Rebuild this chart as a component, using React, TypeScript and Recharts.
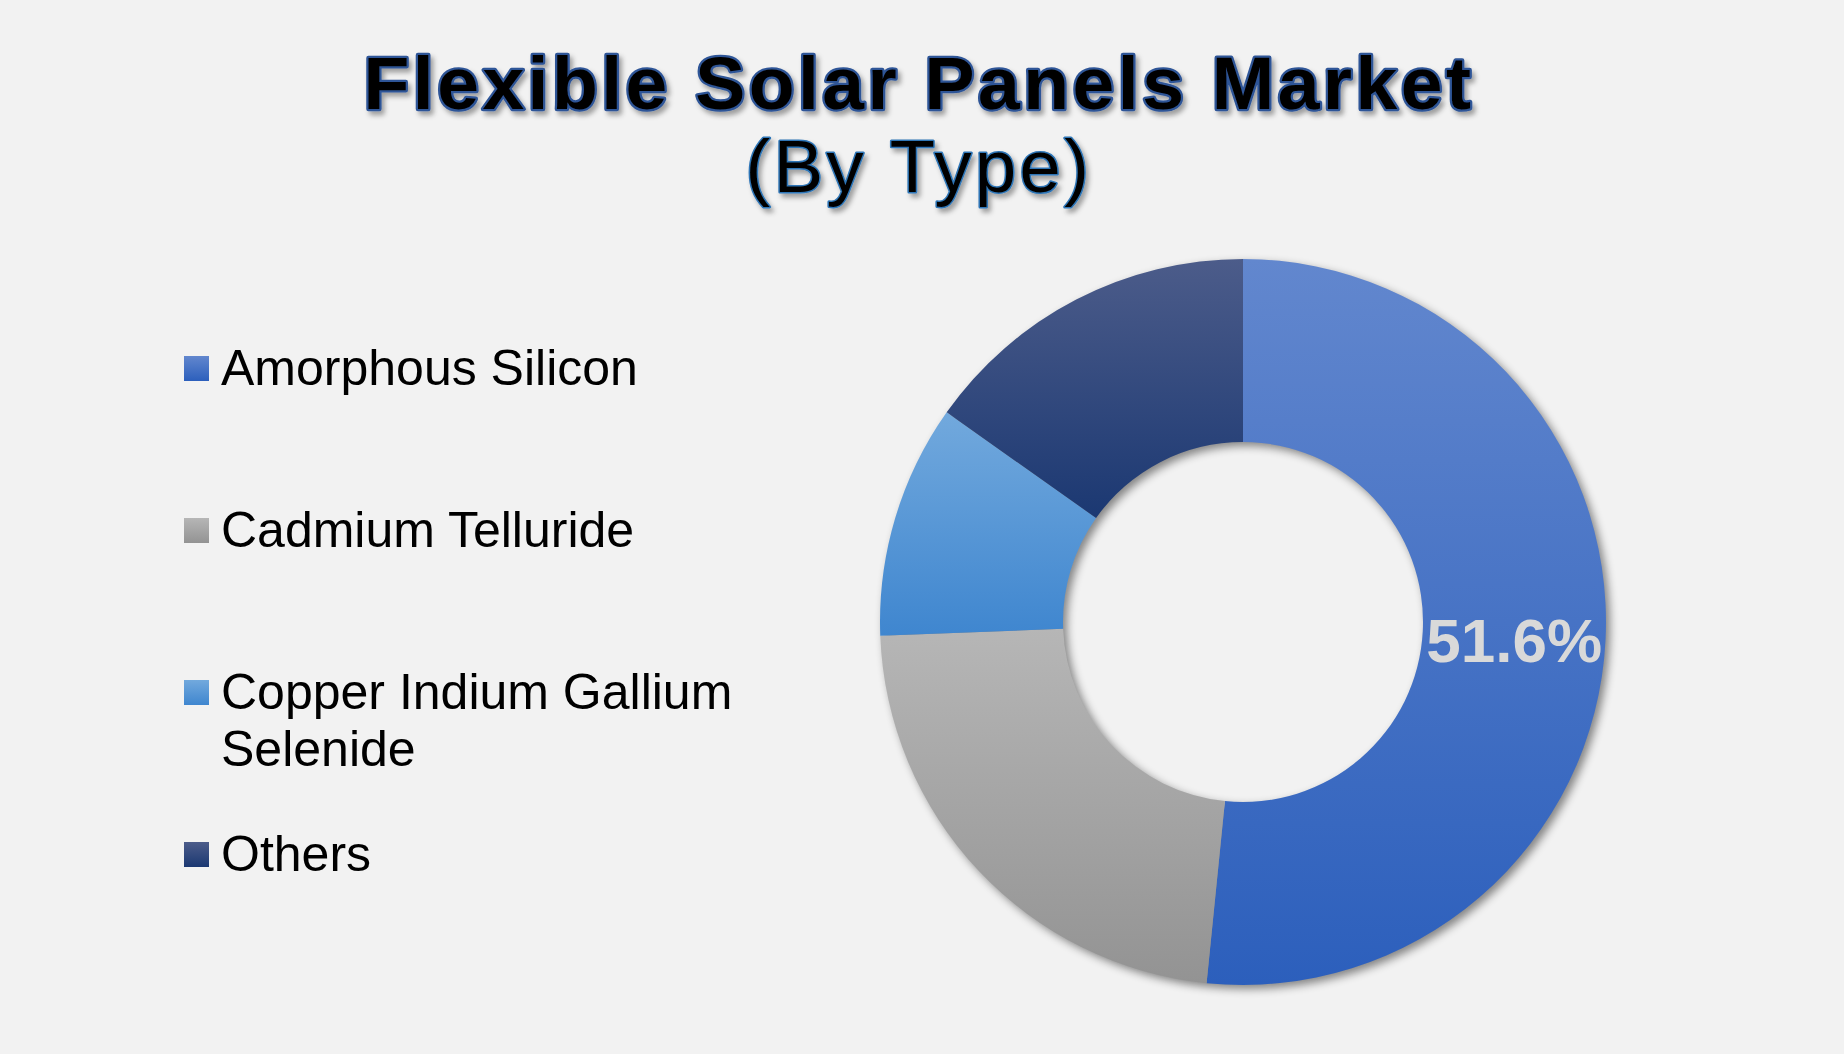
import { Cell, Legend, Pie, PieChart } from "recharts";

// Market share by panel type (%), read from the donut
const CATEGORIES = [
  "Amorphous Silicon",
  "Cadmium Telluride",
  "Copper Indium Gallium Selenide",
  "Others",
];
const SHARES = [51.6, 22.8, 10.4, 15.2];
// only the leading segment carries a value label
const SHOW_LABEL = [true, false, false, false];

const GRADIENT_TOP = ["#6287ce", "#b6b6b6", "#72a9dd", "#4c5c8a"];
const GRADIENT_BOTTOM = ["#2c5fbc", "#939393", "#3f86cf", "#1b3872"];

const FONT = '"Liberation Sans", Arial, Helvetica, sans-serif';
const WIDTH = 1844;
const HEIGHT = 1054;
const RADIAN = Math.PI / 180;

const LEGEND_FIRST_TOP = 340;
const LEGEND_PITCH = 162;

const data = CATEGORIES.map((name, i) => ({ name, value: SHARES[i] }));

type LabelProps = {
  cx: number;
  cy: number;
  midAngle: number;
  innerRadius: number;
  outerRadius: number;
  index: number;
  value: number;
};

function renderLabel({ cx, cy, midAngle, innerRadius, outerRadius, index, value }: LabelProps) {
  if (!SHOW_LABEL[index]) return null;
  const r = (innerRadius + outerRadius) / 2;
  const x = cx + r * Math.cos(-midAngle * RADIAN);
  const y = cy + r * Math.sin(-midAngle * RADIAN);
  return (
    <text
      x={x}
      y={y}
      dy={5}
      textAnchor="middle"
      dominantBaseline="central"
      fill="#d9d9d9"
      fontFamily={FONT}
      fontWeight="bold"
      fontSize={62}
    >
      {`${value.toFixed(1)}%`}
    </text>
  );
}

type LegendEntry = { value?: string | number };

function LegendContent({ payload }: { payload?: ReadonlyArray<LegendEntry> }) {
  const items =
    payload && payload.length > 0 ? payload.map((p) => String(p.value)) : CATEGORIES;
  return (
    <div style={{ position: "relative", width: 800, height: HEIGHT }}>
      {items.map((label, i) => (
        <div
          key={label}
          style={{
            position: "absolute",
            left: 184,
            top: LEGEND_FIRST_TOP + LEGEND_PITCH * i,
            display: "flex",
            alignItems: "flex-start",
            fontFamily: FONT,
            fontSize: 50,
            lineHeight: "57px",
            color: "#000",
            textAlign: "left",
          }}
        >
          <span
            style={{
              display: "inline-block",
              width: 25,
              height: 25,
              marginTop: 16,
              marginRight: 12,
              flex: "none",
              background: `linear-gradient(${GRADIENT_TOP[i]}, ${GRADIENT_BOTTOM[i]})`,
            }}
          />
          <span style={{ maxWidth: 540 }}>{label}</span>
        </div>
      ))}
    </div>
  );
}

export default function App() {
  return (
    <div
      style={{
        position: "absolute",
        left: 0,
        top: 0,
        width: WIDTH,
        height: HEIGHT,
        background: "#f2f2f2",
        overflow: "hidden",
      }}
    >
      <style>{`.recharts-pie { filter: drop-shadow(4px 4px 4px rgba(0,0,0,0.45)); }`}</style>
      <svg
        width={WIDTH}
        height={230}
        style={{ position: "absolute", left: 0, top: 0 }}
      >
        <defs>
          <filter id="titleShadow" x="-5%" y="-20%" width="110%" height="150%">
            <feDropShadow dx="3" dy="4" stdDeviation="2.5" floodColor="#000" floodOpacity="0.35" />
          </filter>
        </defs>
        <text
          x={919}
          y={109}
          textAnchor="middle"
          fontFamily={FONT}
          fontWeight="bold"
          fontSize={75}
          letterSpacing={3.5}
          fill="#000"
          stroke="#2f5597"
          strokeWidth={4.5}
          paintOrder="stroke"
          strokeLinejoin="round"
          filter="url(#titleShadow)"
        >
          Flexible Solar Panels Market
        </text>
        <text
          x={919}
          y={192}
          textAnchor="middle"
          fontFamily={FONT}
          fontSize={74}
          letterSpacing={3.5}
          fill="#000"
          stroke="#2e75b6"
          strokeWidth={3}
          paintOrder="stroke"
          strokeLinejoin="round"
          filter="url(#titleShadow)"
        >
          (By Type)
        </text>
      </svg>
      <PieChart width={WIDTH} height={HEIGHT} margin={{ top: 0, right: 0, bottom: 0, left: 0 }}>
        <defs>
          {CATEGORIES.map((c, i) => (
            <linearGradient key={c} id={`seg${i}`} x1="0" y1="0" x2="0" y2="1">
              <stop offset="0%" stopColor={GRADIENT_TOP[i]} />
              <stop offset="100%" stopColor={GRADIENT_BOTTOM[i]} />
            </linearGradient>
          ))}
        </defs>
        <Legend
          layout="horizontal"
          align="center"
          verticalAlign="middle"
          wrapperStyle={{ left: 0, top: 0, width: 800, height: HEIGHT }}
          content={(props) => (
            <LegendContent payload={props.payload as ReadonlyArray<LegendEntry> | undefined} />
          )}
        />
        <Pie
          data={data}
          dataKey="value"
          nameKey="name"
          cx={1243}
          cy={622}
          innerRadius={180}
          outerRadius={363}
          startAngle={90}
          endAngle={-270}
          stroke="none"
          labelLine={false}
          label={renderLabel}
          isAnimationActive={false}
        >
          {data.map((d, i) => (
            <Cell key={d.name} fill={`url(#seg${i})`} />
          ))}
        </Pie>
      </PieChart>
    </div>
  );
}
